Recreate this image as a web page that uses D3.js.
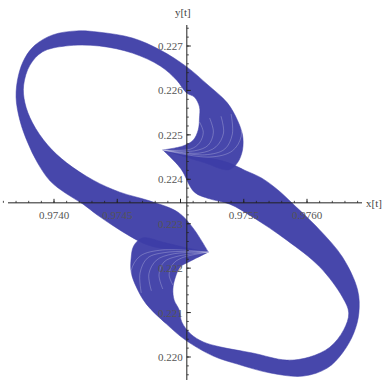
<!DOCTYPE html>
<html>
<head>
<meta charset="utf-8">
<script src="https://cdn.jsdelivr.net/npm/d3@7"></script>
<style>
  body { margin: 0; background: #fff; }
  svg { display: block; }
  .axis-name { font-family: "Liberation Serif", serif; font-size: 11px; fill: #444; }
</style>
</head>
<body>
<svg id="chart" width="386" height="380"></svg>
<script>
// tick values
const xMajor = [0.9740, 0.9745, 0.9750, 0.9755, 0.9760];
const yMajor = [0.220, 0.221, 0.222, 0.223, 0.224, 0.225, 0.226, 0.227];
const axesOrigin = [0.97505, 0.22347];

// the two cusp points where every curve of the family meets
const tipLow = [0.97522, 0.22236];
const tipUp = [0.97486, 0.22466];

// upper-left lobe (lower tip -> lobe -> upper crescent -> upper tip)
const lobeAOuter = [
  [0.97510, 0.22236], [0.97492, 0.22241], [0.97474, 0.22252], [0.97460, 0.22272],
  [0.97447, 0.22295], [0.97434, 0.22320], [0.97423, 0.22344], [0.97409, 0.22369],
  [0.97397, 0.22396], [0.97387, 0.22437], [0.97379, 0.22484], [0.97373, 0.22533],
  [0.97370, 0.22585], [0.97372, 0.22635], [0.97377, 0.22673], [0.97385, 0.22702],
  [0.97399, 0.22725], [0.97418, 0.22734], [0.97436, 0.22731], [0.97462, 0.22718],
  [0.97484, 0.22691], [0.97505, 0.22653], [0.97521, 0.22614], [0.97537, 0.22572],
  [0.97545, 0.22533], [0.97549, 0.22500], [0.97549, 0.22466], [0.97545, 0.22437],
  [0.97538, 0.22421], [0.97519, 0.22437], [0.97504, 0.22450]
];
const lobeAInner = [
  [0.97510, 0.22290], [0.97498, 0.22326], [0.97476, 0.22351], [0.97452, 0.22371],
  [0.97431, 0.22398], [0.97410, 0.22437], [0.97395, 0.22477], [0.97383, 0.22527],
  [0.97377, 0.22572], [0.97376, 0.22612], [0.97381, 0.22657], [0.97391, 0.22687],
  [0.97409, 0.22700], [0.97436, 0.22700], [0.97462, 0.22684], [0.97484, 0.22655],
  [0.97497, 0.22623], [0.97505, 0.22594], [0.97511, 0.22585], [0.97515, 0.22563],
  [0.97515, 0.22538], [0.97514, 0.22511], [0.97510, 0.22488], [0.97502, 0.22475]
];

// lower-right lobe (upper tip -> lobe -> lower crescent -> lower tip)
const lobeBOuter = [
  [0.97500, 0.22459], [0.97519, 0.22450], [0.97538, 0.22437], [0.97551, 0.22420],
  [0.97564, 0.22403], [0.97577, 0.22376], [0.97588, 0.22347], [0.97610, 0.22286],
  [0.97628, 0.22225], [0.97640, 0.22151], [0.97641, 0.22099], [0.97637, 0.22054],
  [0.97628, 0.22009], [0.97616, 0.21975], [0.97597, 0.21957], [0.97571, 0.21964],
  [0.97545, 0.21984], [0.97526, 0.22002], [0.97504, 0.22038], [0.97489, 0.22074],
  [0.97473, 0.22119], [0.97465, 0.22158], [0.97461, 0.22191], [0.97461, 0.22223],
  [0.97463, 0.22250], [0.97470, 0.22268], [0.97488, 0.22257], [0.97506, 0.22245]
];
const lobeBInner = [
  [0.97500, 0.22425], [0.97511, 0.22371], [0.97523, 0.22356], [0.97539, 0.22344],
  [0.97557, 0.22315], [0.97584, 0.22263], [0.97610, 0.22203], [0.97628, 0.22135],
  [0.97633, 0.22099], [0.97629, 0.22061], [0.97618, 0.22022], [0.97602, 0.22000],
  [0.97584, 0.21993], [0.97557, 0.22009], [0.97531, 0.22023], [0.97518, 0.22034],
  [0.97508, 0.22052], [0.97501, 0.22079], [0.97499, 0.22106], [0.97495, 0.22128],
  [0.97494, 0.22153], [0.97496, 0.22180], [0.97500, 0.22203], [0.97508, 0.22216]
];

// single curves of the family that show as pale threads near the cusps
const upperThreads = [
  [[0.97508, 0.22468], [0.97515, 0.22482], [0.97518, 0.22506], [0.97515, 0.22529]],
  [[0.97511, 0.22464], [0.97522, 0.22477], [0.97526, 0.22506], [0.97523, 0.22538]],
  [[0.97515, 0.22459], [0.97528, 0.22473], [0.97534, 0.22504], [0.97532, 0.22542]],
  [[0.97519, 0.22455], [0.97535, 0.22468], [0.97541, 0.22502], [0.97540, 0.22547]],
  [[0.97523, 0.22450], [0.97541, 0.22464], [0.97548, 0.22497], [0.97546, 0.22545]]
];
const lowerThreads = [
  [[0.97501, 0.22223], [0.97494, 0.22209], [0.97491, 0.22185], [0.97494, 0.22162]],
  [[0.97498, 0.22227], [0.97487, 0.22214], [0.97483, 0.22185], [0.97486, 0.22153]],
  [[0.97494, 0.22232], [0.97481, 0.22218], [0.97475, 0.22187], [0.97477, 0.22149]],
  [[0.97490, 0.22236], [0.97474, 0.22223], [0.97468, 0.22189], [0.97469, 0.22144]],
  [[0.97486, 0.22241], [0.97468, 0.22227], [0.97461, 0.22194], [0.97463, 0.22146]]
];

const svg = d3.select("#chart");

const x = d3.scaleLinear().domain([0.9740, 0.9760]).range([54, 307]);
const y = d3.scaleLinear().domain([0.220, 0.227]).range([357, 46]);

const edge = d3.line()
    .x(d => x(d[0]))
    .y(d => y(d[1]))
    .curve(d3.curveCatmullRom.alpha(0.5));

function bandPath(from, outer, inner, to) {
  const a = edge([from, ...outer, to]);
  const b = edge([to, ...inner.slice().reverse(), from]);
  return a + "L" + b.slice(1) + "Z";
}

// Bands -----------------------------------------------------------
const bandsG = svg.append("g");

[[tipLow, lobeAOuter, lobeAInner, tipUp], [tipUp, lobeBOuter, lobeBInner, tipLow]]
  .forEach(b => {
    bandsG.append("path")
        .attr("d", bandPath(...b))
        .attr("fill", "#3d3da6")
        .attr("fill-opacity", 0.95)
        .attr("stroke", "#3d3da6")
        .attr("stroke-width", 0.5);
  });

// Threads ---------------------------------------------------------
const threadsG = svg.append("g");
[[tipUp, upperThreads], [tipLow, lowerThreads]].forEach(([tip, threads]) => {
  threadsG.append("g")
    .selectAll("path")
    .data(threads)
    .enter().append("path")
      .attr("d", d => edge([tip, ...d]))
      .attr("fill", "none")
      .attr("stroke", "#fff")
      .attr("stroke-opacity", 0.3)
      .attr("stroke-width", 0.8);
});

// Axes ------------------------------------------------------------
const x0 = y(axesOrigin[1]);
const y0 = x(axesOrigin[0]);

const xAxisG = svg.append("g").attr("transform", `translate(0, ${x0})`);
xAxisG.append("line")
    .attr("x1", 8).attr("x2", 362)
    .attr("stroke", "#222");
xAxisG.selectAll(".minor")
  .data(d3.range(0.9736, 0.97645, 0.0001))
  .enter().append("line")
    .attr("x1", d => x(d)).attr("x2", d => x(d))
    .attr("y1", 0).attr("y2", -2)
    .attr("stroke", "#222").attr("stroke-width", 0.8);
xAxisG.selectAll(".major")
  .data(xMajor)
  .enter().append("line")
    .attr("x1", d => x(d)).attr("x2", d => x(d))
    .attr("y1", 0).attr("y2", -4)
    .attr("stroke", "#222");
xAxisG.selectAll("text")
  .data(xMajor.filter(d => Math.abs(d - 0.9750) > 1e-6))
  .enter().append("text")
    .attr("x", d => x(d))
    .attr("y", 16)
    .attr("text-anchor", "middle")
    .style("font-family", "Liberation Serif, serif")
    .style("font-size", "11px")
    .style("fill", "#555")
    .text(d => d.toFixed(4));
svg.append("text")
    .attr("class", "axis-name")
    .attr("x", 366).attr("y", x0 + 4)
    .text("x[t]");

const yAxisG = svg.append("g").attr("transform", `translate(${y0}, 0)`);
yAxisG.append("line")
    .attr("y1", 25).attr("y2", 380)
    .attr("stroke", "#222");
yAxisG.selectAll(".minor")
  .data(d3.range(0.2194, 0.22750, 0.0002))
  .enter().append("line")
    .attr("y1", d => y(d)).attr("y2", d => y(d))
    .attr("x1", 0).attr("x2", 2)
    .attr("stroke", "#222").attr("stroke-width", 0.8);
yAxisG.selectAll(".major")
  .data(yMajor)
  .enter().append("line")
    .attr("y1", d => y(d)).attr("y2", d => y(d))
    .attr("x1", 0).attr("x2", 4)
    .attr("stroke", "#222");
yAxisG.selectAll("text")
  .data(yMajor)
  .enter().append("text")
    .attr("x", -4)
    .attr("y", d => y(d) + 4)
    .attr("text-anchor", "end")
    .style("font-family", "Liberation Serif, serif")
    .style("font-size", "11px")
    .style("fill", "#555")
    .text(d => d.toFixed(3));
svg.append("text")
    .attr("class", "axis-name")
    .attr("x", y0 - 4).attr("y", 16)
    .attr("text-anchor", "middle")
    .text("y[t]");
</script>
</body>
</html>
